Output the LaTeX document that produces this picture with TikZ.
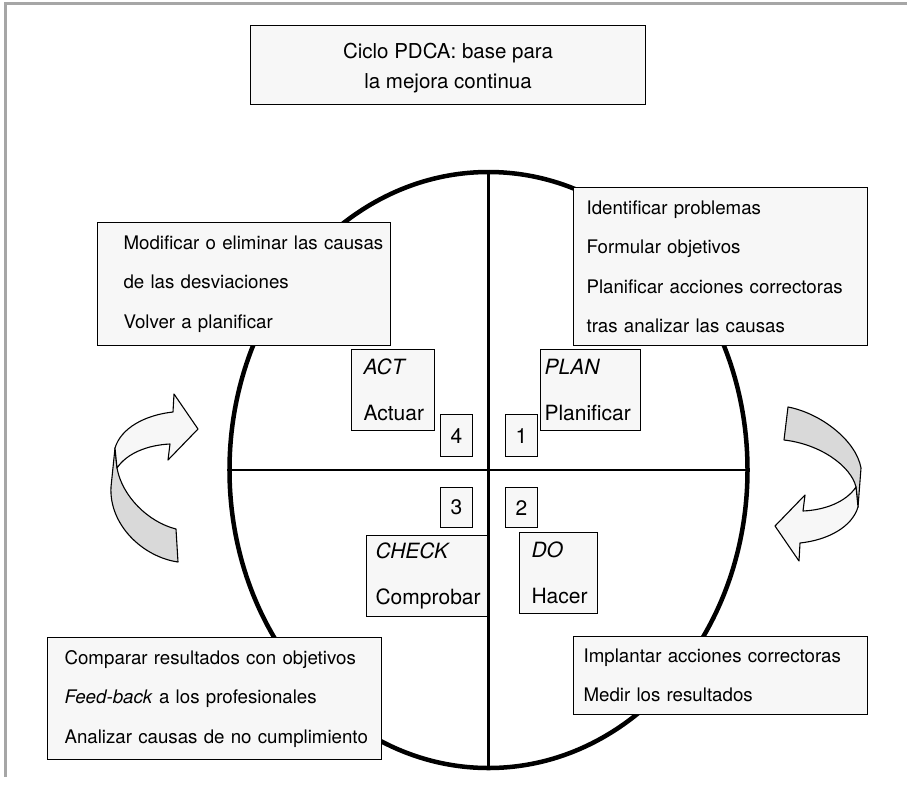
\documentclass[tikz,border=0pt]{standalone}
\usepackage{fontspec}
\setmainfont{TeX Gyre Heros}
\usetikzlibrary{shapes.geometric}

\definecolor{boxfill}{HTML}{F7F7F7}
\definecolor{bandfill}{HTML}{D9D9D9}
\definecolor{framegray}{HTML}{A6A6A6}

\tikzset{
  panel/.style={draw=black, line width=1.1pt, fill=boxfill, anchor=north west,
    inner ysep=0pt, align=left},
  notes/.style={panel, font=\fontsize{18.7}{39.5}\selectfont},
  tag/.style={panel, font=\fontsize{21}{46}\selectfont},
  numbox/.style={draw=black, line width=1.1pt, fill=boxfill, anchor=north west,
    minimum width=32pt, inner sep=0pt, font=\fontsize{21}{25}\selectfont},
  ribbonfront/.style={draw=black, line width=1.1pt, fill=boxfill, line join=round},
  ribbonback/.style={draw=black, line width=1.1pt, fill=bandfill, line join=round},
  divider/.style={draw=black, line width=2.3pt},
}

\begin{document}
\begin{tikzpicture}[x=1pt, y=-1pt]
\useasboundingbox (0,0) rectangle (907,785);

% page frame
\draw[framegray, line width=3pt] (4,3.5) -- (907,3.5);
\draw[framegray, line width=3pt] (5.5,3.5) -- (5.5,777);

% the cycle and its quadrants
\node[draw=black, line width=4.5pt, ellipse, minimum width=518pt, minimum height=596pt,
  inner sep=0pt] (cycle) at (488.5,470) {};
\draw[divider] (cycle.north) -- (cycle.south);
\draw[divider] (cycle.west) -- (cycle.east);

% right turning arrow: grey back band, then the light front face with its head
\draw[ribbonback] (788,407) .. controls (820,413) and (856,440) .. (861,468)
  -- (858,507) -- (856,487) .. controls (851,466) and (820,444) .. (784,440) -- cycle;
\draw[ribbonfront] (856,487) .. controls (846,502) and (825,510) .. (803,511)
  -- (805,495) -- (775,526) -- (799,561) -- (800,543)
  .. controls (828,540) and (852,527) .. (858,507) -- cycle;

% left turning arrow
\draw[ribbonback] (178,562) .. controls (143,557) and (109,525) .. (111,487)
  -- (115,448) -- (117,468) .. controls (122,496) and (148,522) .. (176,529) -- cycle;
\draw[ribbonfront] (117,468) .. controls (127,453) and (148,445) .. (170,444)
  -- (168,460) -- (198,429) -- (174,394) -- (173,412)
  .. controls (145,415) and (121,428) .. (115,448) -- cycle;

% title
\node[panel, align=center, minimum width=395pt, minimum height=79pt,
  font=\fontsize{20.5}{29.5}\selectfont] (title) at (250,25)
  {\rule{0pt}{21pt}Ciclo PDCA: base para\\la mejora continua};

% task lists of each phase
\node[notes, inner xsep=26pt, text width=241pt, minimum height=123pt] (actnotes) at (97,222)
  {\mbox{Modificar o eliminar las causas}\\\mbox{de las desviaciones}\\\mbox{Volver a planificar}};
\node[notes, inner xsep=13pt, text width=268pt, minimum height=158pt] (plannotes) at (573,187)
  {\mbox{Identificar problemas}\\\mbox{Formular objetivos}\\\mbox{Planificar acciones correctoras}\\\mbox{tras analizar las causas}};
\node[notes, inner xsep=17pt, text width=300pt, minimum height=122pt] (checknotes) at (47,637)
  {\mbox{Comparar resultados con objetivos}\\\mbox{\textit{Feed-back} a los profesionales}\\\mbox{Analizar causas de no cumplimiento}};
\node[notes, inner xsep=10pt, text width=274pt, minimum height=78pt] (donotes) at (573,636)
  {\mbox{Implantar acciones correctoras}\\\mbox{Medir los resultados}};

% phase names
\node[tag, inner xsep=12pt, text width=59pt, minimum height=81pt] (actlabel) at (351,349)
  {\textit{ACT}\\Actuar};
\node[tag, inner xsep=4pt, text width=92pt, minimum height=81pt] (planlabel) at (540,349)
  {\textit{PLAN}\\Planificar};
\node[tag, inner xsep=9pt, text width=103pt, minimum height=81pt] (checklabel) at (366,535)
  {\textit{CHECK}\\Comprobar};
\node[tag, inner xsep=12pt, text width=54pt, minimum height=81pt] (dolabel) at (519,532)
  {\textit{DO}\\Hacer};

% step numbers
\node[numbox, minimum height=42pt] (n4) at (440,414) {4};
\node[numbox, minimum height=42pt] (n1) at (505,414) {1};
\node[numbox, minimum height=40pt] (n3) at (440,487) {3};
\node[numbox, minimum height=40pt] (n2) at (505,487) {2};
\end{tikzpicture}
\end{document}
